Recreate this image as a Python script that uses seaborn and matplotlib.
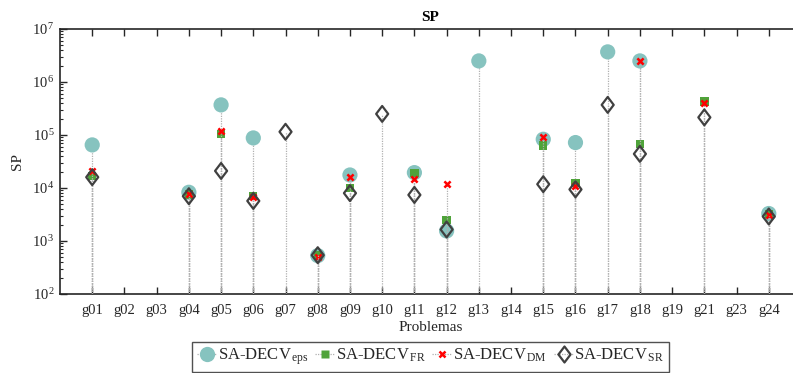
import numpy as np
import pandas as pd
import matplotlib
matplotlib.use("Agg")
import matplotlib.pyplot as plt
import seaborn as sns
from matplotlib.lines import Line2D
from matplotlib.path import Path
from matplotlib.ticker import LogLocator, FixedLocator, FixedFormatter

nan = np.nan
problems = ["g01", "g02", "g03", "g04", "g05", "g06", "g07", "g08", "g09", "g10", "g11",
            "g12", "g13", "g14", "g15", "g16", "g17", "g18", "g19", "g21", "g23", "g24"]
sp_eps = [6.5e4, nan, nan, 8.3e3, 3.7e5, 8.8e4, nan, 5.3e2, 1.76e4, nan, 1.95e4,
          1.55e3, 2.5e6, nan, 8.3e4, 7.2e4, 3.7e6, 2.5e6, nan, nan, nan, 3.3e3]
sp_fr = [1.7e4, nan, nan, 7.5e3, 1.05e5, 7.1e3, nan, 5.3e2, 1.0e4, nan, 1.9e4,
         2.5e3, nan, nan, 6.3e4, 1.23e4, nan, 6.8e4, nan, 4.3e5, nan, 3.2e3]
sp_dm = [2.1e4, nan, nan, 7.8e3, 1.2e5, 6.8e3, nan, 5.0e2, 1.6e4, nan, 1.5e4,
         1.19e4, nan, nan, 9.0e4, 1.1e4, nan, 2.5e6, nan, 4.1e5, nan, 3.1e3]
sp_sr = [1.6e4, nan, nan, 7.0e3, 2.1e4, 5.7e3, 1.15e5, 5.4e2, 8.0e3, 2.5e5, 7.4e3,
         1.65e3, nan, nan, 1.18e4, 9.4e3, 3.7e5, 4.4e4, nan, 2.15e5, nan, 2.9e3]
series_labels = [r"SA-DECV$_{\,\rm eps}$", r"SA-DECV$_{\,\rm FR}$",
                 r"SA-DECV$_{\,\rm DM}$", r"SA-DECV$_{\,\rm SR}$"]

sns.set_theme(style="white")
plt.rcParams["font.family"] = ["Liberation Serif", "DejaVu Serif"]
plt.rcParams["mathtext.fontset"] = "custom"
plt.rcParams["mathtext.rm"] = "Liberation Serif"
plt.rcParams["mathtext.it"] = "Liberation Serif:italic"

x_pos = np.arange(1, len(problems) + 1)
frames = []
for lab, vals in zip(series_labels, [sp_eps, sp_fr, sp_dm, sp_sr]):
    frames.append(pd.DataFrame({"x": x_pos, "problem": problems, "SP": vals, "serie": lab}))
df = pd.concat(frames, ignore_index=True)

# MATLAB-like diamond (taller than wide)
diamond = Path([(0, 1), (0.76, 0), (0, -1), (-0.76, 0), (0, 1)],
               [Path.MOVETO, Path.LINETO, Path.LINETO, Path.LINETO, Path.CLOSEPOLY])

fig = plt.figure(figsize=(7.93, 3.73), dpi=100)
ax = fig.add_axes([60 / 793, 79 / 373, 741 / 793, 265 / 373])

styles = {
    series_labels[0]: dict(marker="o", s=120, color="#86C3BF", edgecolor="none", linewidth=0),
    series_labels[1]: dict(marker="s", s=36, color="#4FA33A", edgecolor="none", linewidth=0),
    series_labels[2]: dict(marker="x", s=20, color="#FF0000", linewidth=1.8),
    series_labels[3]: dict(marker=diamond, s=130, facecolor="none", edgecolor="#404040", linewidth=1.6),
}
stem_color = "#B0B0B0"
base = 1e2
z = 2
for lab in series_labels:
    sub = df[(df["serie"] == lab) & df["SP"].notna()]
    ax.vlines(sub["x"], base, sub["SP"], colors=stem_color, linestyles=(0, (1, 1)),
              linewidth=0.9, zorder=z)
    st = styles[lab]
    sns.scatterplot(data=sub, x="x", y="SP", ax=ax, zorder=z + 0.5, legend=False, **st)
    z += 1

ax.set_yscale("log")
ax.set_ylim(1e2, 1e7)
ax.set_xlim(0, len(problems) + 1)
ax.xaxis.set_major_locator(FixedLocator(x_pos))
ax.xaxis.set_major_formatter(FixedFormatter(problems))
ax.yaxis.set_minor_locator(LogLocator(base=10, subs=np.arange(2, 10), numticks=20))
ax.set_yticks([1e2, 1e3, 1e4, 1e5, 1e6, 1e7])
ax.set_yticklabels([r"$10^{\,%d}$" % k for k in range(2, 8)])

tc = "#262626"
ax.tick_params(axis="both", which="major", direction="in", length=5, width=1.0,
               color=tc, labelcolor=tc, labelsize=10.5, top=True, right=True, bottom=True, left=True)
ax.tick_params(axis="y", which="minor", direction="in", length=2.5, width=0.8, color=tc,
               left=True, right=True)
ax.tick_params(axis="x", which="both", pad=7)
for sp in ax.spines.values():
    sp.set_color(tc)
    sp.set_linewidth(1.2)

ax.set_xlabel("Problemas", fontsize=11, color=tc, labelpad=3)
ax.set_ylabel("SP", fontsize=11, color=tc, labelpad=6)
ax.set_title("SP", fontsize=11, fontweight="bold", color="black", pad=6)

handles = [
    Line2D([], [], color=stem_color, linestyle=(0, (1, 1)), linewidth=0.9, marker="o",
           markersize=11, markerfacecolor="#86C3BF", markeredgecolor="none"),
    Line2D([], [], color=stem_color, linestyle=(0, (1, 1)), linewidth=0.9, marker="s",
           markersize=6, markerfacecolor="#4FA33A", markeredgecolor="none"),
    Line2D([], [], color=stem_color, linestyle=(0, (1, 1)), linewidth=0.9, marker="x",
           markersize=4.5, markeredgecolor="#FF0000", markeredgewidth=1.8),
    Line2D([], [], color=stem_color, linestyle=(0, (1, 1)), linewidth=0.9, marker=diamond,
           markersize=11.5, markerfacecolor="none", markeredgecolor="#404040", markeredgewidth=1.6),
]
leg = ax.legend(handles, series_labels, loc="upper center", bbox_to_anchor=(0.5, -0.18),
                ncol=4, frameon=True, fancybox=False, fontsize=12, handlelength=1.2,
                handletextpad=0.05, columnspacing=0.4, borderpad=0.3, borderaxespad=0)
leg.get_frame().set_edgecolor(tc)
leg.get_frame().set_linewidth(1.0)

fig.savefig("out.png", dpi=100)
